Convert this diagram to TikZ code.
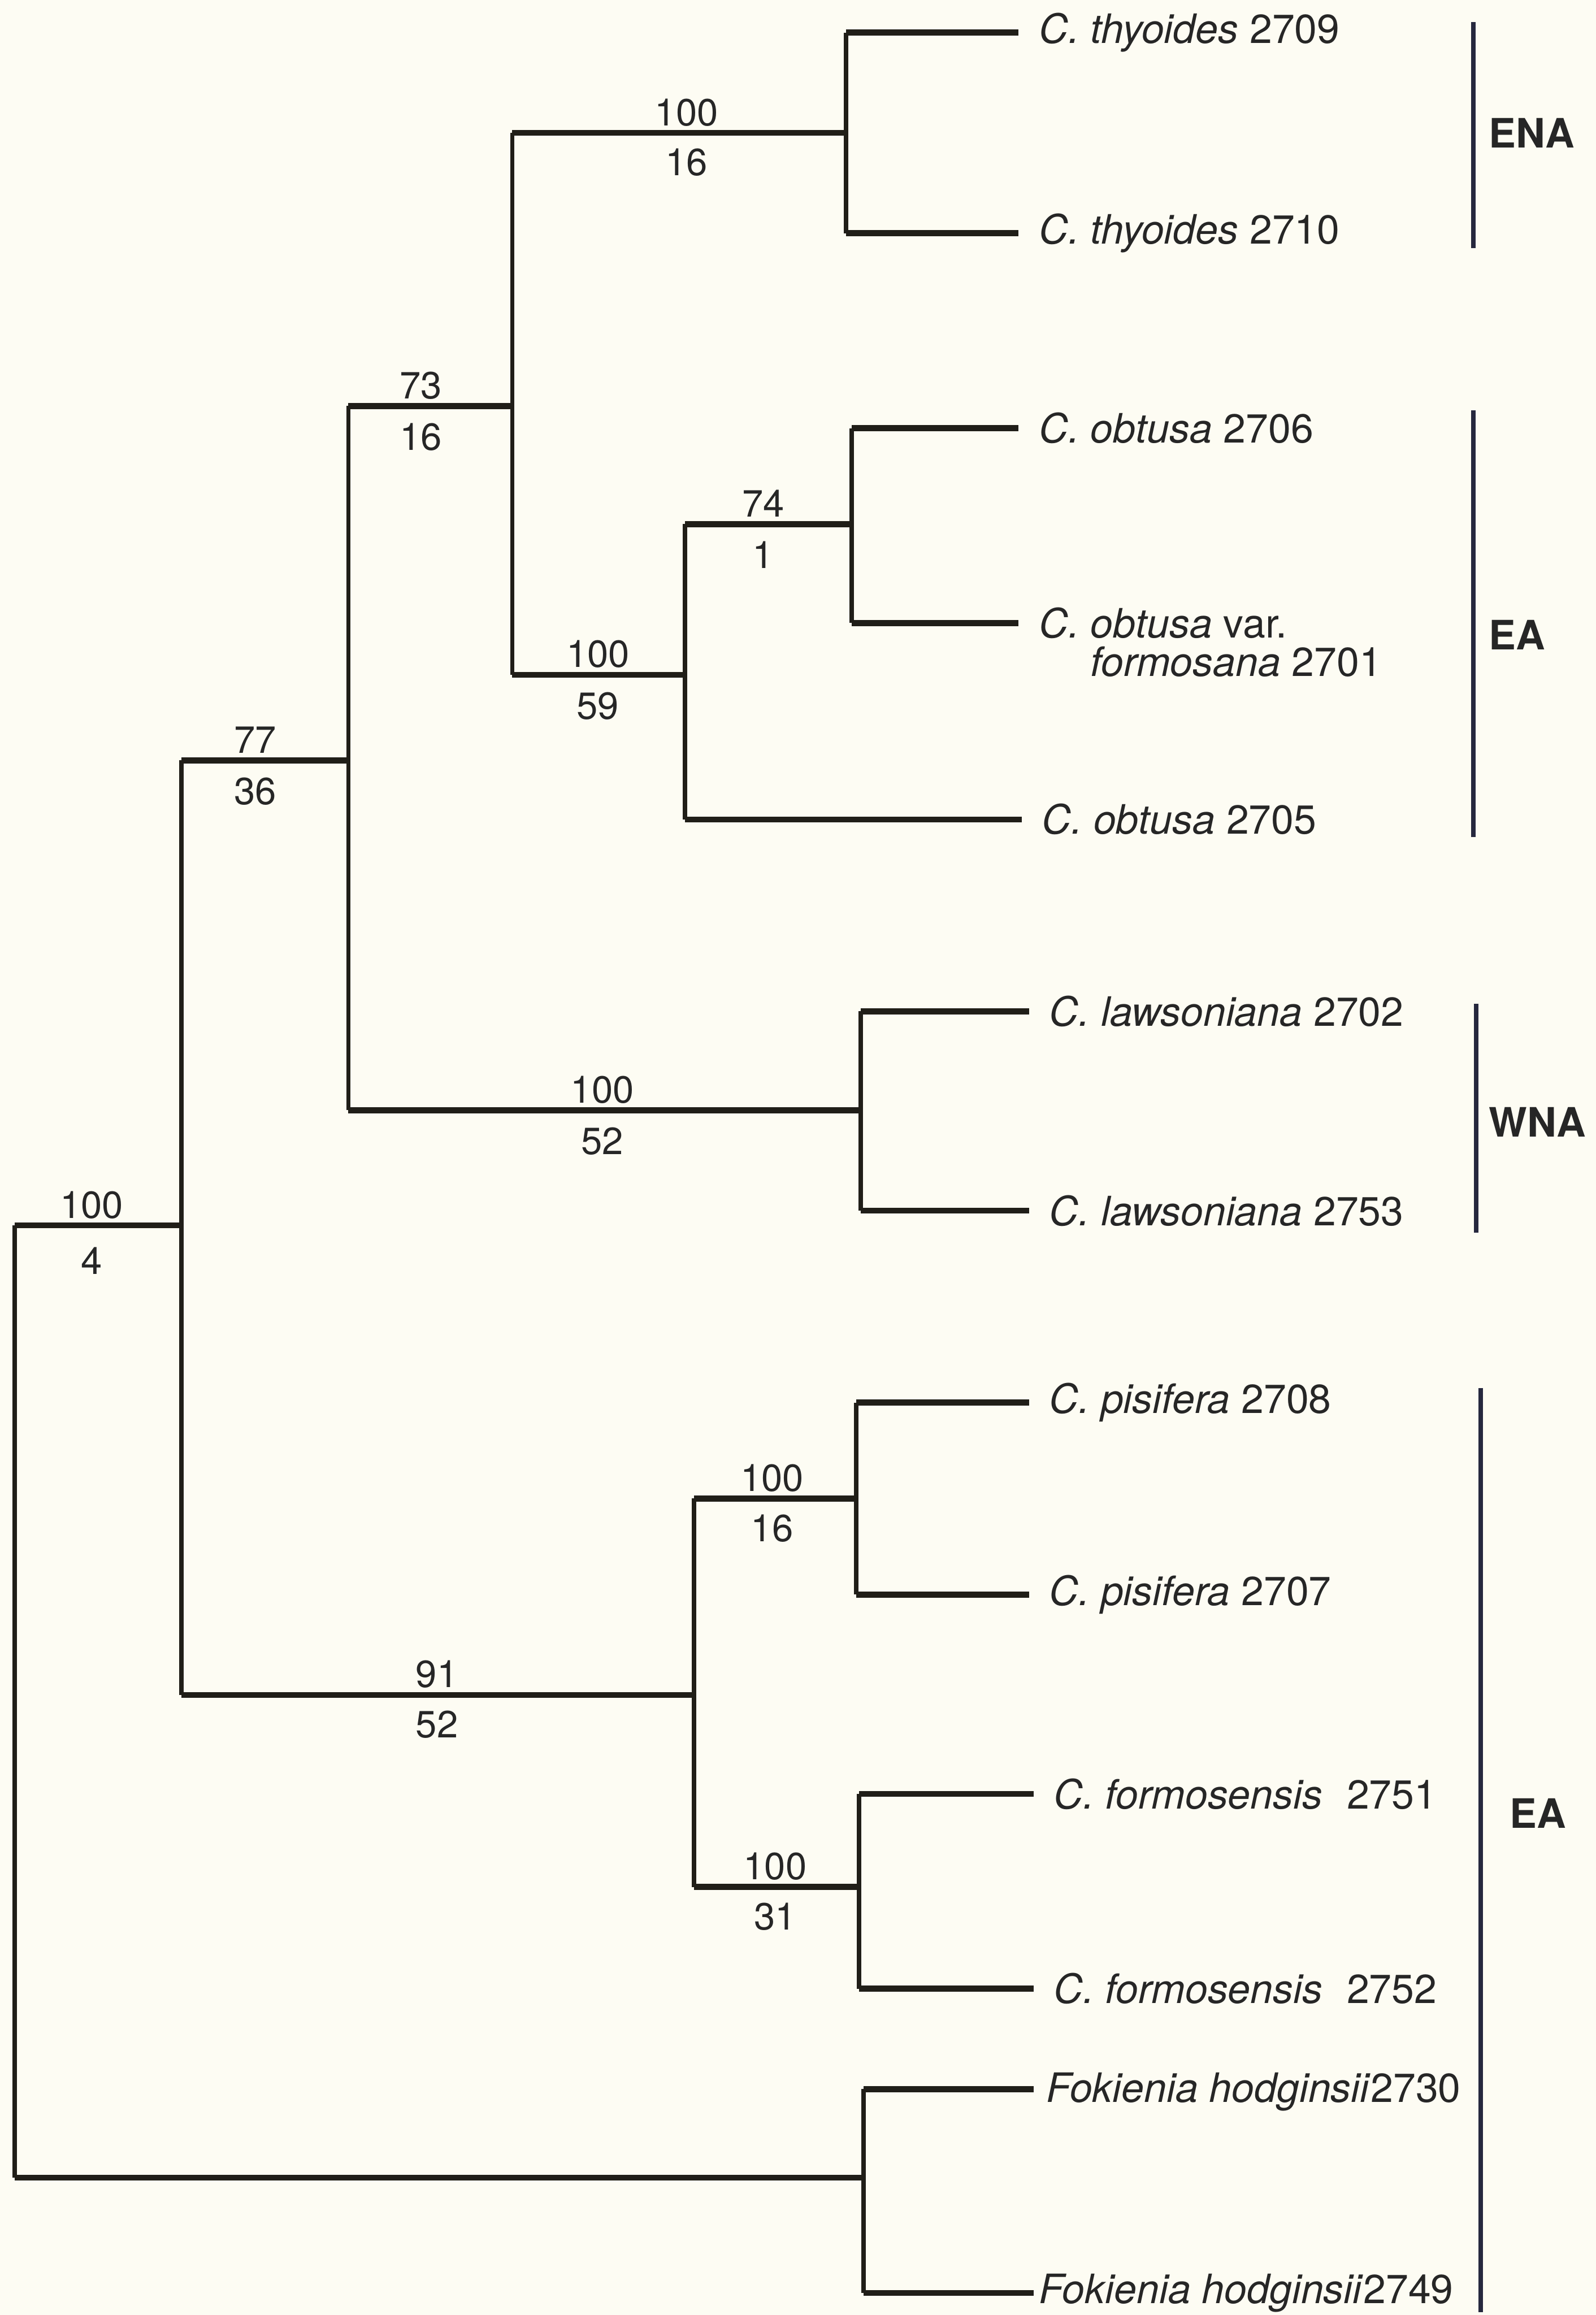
\documentclass[tikz,border=0pt]{standalone}
\usepackage{fontspec}
\setmainfont{TeX Gyre Heros}
\definecolor{bg}{RGB}{253,252,243}
\definecolor{br}{RGB}{32,30,24}
\definecolor{barc}{RGB}{38,40,62}
\definecolor{tx}{RGB}{38,38,38}
\begin{document}
\begin{tikzpicture}[x=0.01cm,y=-0.01cm,
  hb/.style={line width=1.15pt,color=br},
  vb/.style={line width=0.85pt,color=br},
  leaf/.style={anchor=west,inner xsep=0.13cm,inner ysep=0pt,text=tx,font=\fontsize{7.8}{9}\selectfont},
  num/.style={anchor=base,inner sep=0pt,text=tx,font=\fontsize{7.3}{9}\selectfont},
  grp/.style={anchor=west,inner sep=0pt,text=tx,font=\fontsize{7.8}{9}\selectfont\bfseries},
  gbar/.style={line width=0.9pt,color=barc}]
\fill[bg] (0,0) rectangle (1081,1568);
\useasboundingbox (0,0) rectangle (1081,1568);
% internal nodes
\coordinate (R) at (10,1150);
\coordinate (A) at (123,830);
\coordinate (F) at (585,1475);
\coordinate (B) at (236,515);
\coordinate (E) at (470,1148);
\coordinate (C) at (347,275);
\coordinate (W) at (583,752);
\coordinate (T) at (573,90);
\coordinate (D) at (464,457);
\coordinate (O) at (577,355);
\coordinate (P) at (580,1015);
\coordinate (Fo) at (582,1278);
% leaves
\node[leaf] (t1) at (690,22) {\textit{C. thyoides} 2709};
\node[leaf] (t2) at (690,158) {\textit{C. thyoides} 2710};
\node[leaf] (o1) at (690,290) {\textit{C. obtusa} 2706};
\node[leaf] (o2) at (690,422) {\textit{C. obtusa} var.};
\node[leaf,inner xsep=0pt] (o2b) at (738,448) {\textit{formosana} 2701};
\node[leaf] (o3) at (692,555) {\textit{C. obtusa} 2705};
\node[leaf] (l1) at (697,685) {\textit{C. lawsoniana} 2702};
\node[leaf] (l2) at (697,820) {\textit{C. lawsoniana} 2753};
\node[leaf] (p1) at (697,950) {\textit{C. pisifera} 2708};
\node[leaf] (p2) at (697,1080) {\textit{C. pisifera} 2707};
\node[leaf] (f1) at (700,1215) {\textit{C. formosensis}\hspace{0.6em}2751};
\node[leaf] (f2) at (700,1347) {\textit{C. formosensis}\hspace{0.6em}2752};
\node[leaf,inner xsep=0.08cm] (k1) at (700,1417) {\textit{Fokienia hodginsii}2730};
\node[leaf,inner xsep=0.03cm] (k2) at (700,1553) {\textit{Fokienia hodginsii}2749};
% verticals
\draw[vb] (R |- A) -- (R |- F);
\draw[vb] (A |- B) -- (A |- E);
\draw[vb] (B |- C) -- (B |- W);
\draw[vb] (C |- T) -- (C |- D);
\draw[vb] (D |- O) -- (D |- o3.west);
\draw[vb] (E |- P) -- (E |- Fo);
\draw[vb] (T |- t1.west) -- (T |- t2.west);
\draw[vb] (O |- o1.west) -- (O |- o2.west);
\draw[vb] (W |- l1.west) -- (W |- l2.west);
\draw[vb] (P |- p1.west) -- (P |- p2.west);
\draw[vb] (Fo |- f1.west) -- (Fo |- f2.west);
\draw[vb] (F |- k1.west) ++(0,-2) -- (F |- k2.west);
% horizontals
\draw[hb] (R |- A) -- (A);
\draw[hb] (R |- F) -- (F);
\draw[hb] (A |- B) -- (B);
\draw[hb] (A |- E) -- (E);
\draw[hb] (B |- C) -- (C);
\draw[hb] (B |- W) -- (W);
\draw[hb] (C |- T) -- (T);
\draw[hb] (C |- D) -- (D);
\draw[hb] (D |- O) -- (O);
\draw[hb] (D |- o3.west) -- (o3.west);
\draw[hb] (E |- P) -- (P);
\draw[hb] (E |- Fo) -- (Fo);
\draw[hb] (T |- t1.west) -- (t1.west);
\draw[hb] (T |- t2.west) -- (t2.west);
\draw[hb] (O |- o1.west) -- (o1.west);
\draw[hb] (O |- o2.west) -- (o2.west);
\draw[hb] (W |- l1.west) -- (l1.west);
\draw[hb] (W |- l2.west) -- (l2.west);
\draw[hb] (P |- p1.west) -- (p1.west);
\draw[hb] (P |- p2.west) -- (p2.west);
\draw[hb] (Fo |- f1.west) -- (f1.west);
\draw[hb] (Fo |- f2.west) -- (f2.west);
\draw[hb] ([yshift=0.02cm]F |- k1.west) -- ([yshift=0.02cm]k1.west);
\draw[hb] (F |- k2.west) -- (k2.west);
% support values
\node[num] (nR1) at (62,825) {100};   \node[num] (nR2) at (62,863) {4};
\node[num] (nA1) at (173,510) {77};   \node[num] (nA2) at (173,545) {36};
\node[num] (nE1) at (296,1143) {91};  \node[num] (nE2) at (296,1177) {52};
\node[num] (nB1) at (285,270) {73};   \node[num] (nB2) at (285,305) {16};
\node[num] (nW1) at (408,747) {100};  \node[num] (nW2) at (408,782) {52};
\node[num] (nT1) at (465,85) {100};   \node[num] (nT2) at (465,119) {16};
\node[num] (nD1) at (405,452) {100};  \node[num] (nD2) at (405,487) {59};
\node[num] (nO1) at (517,350) {74};   \node[num] (nO2) at (517,385) {1};
\node[num] (nP1) at (523,1010) {100}; \node[num] (nP2) at (523,1044) {16};
\node[num] (nF1) at (525,1273) {100}; \node[num] (nF2) at (525,1307) {31};
% geographic bars
\coordinate (g1a) at (998,15);  \coordinate (g1b) at (998,168);
\coordinate (g2a) at (998,278); \coordinate (g2b) at (998,567);
\coordinate (g3a) at (1000,680); \coordinate (g3b) at (1000,835);
\coordinate (g4a) at (1003,940); \coordinate (g4b) at (1003,1566);
\draw[gbar] (g1a) -- (g1b);
\draw[gbar] (g2a) -- (g2b);
\draw[gbar] (g3a) -- (g3b);
\draw[gbar] (g4a) -- (g4b);
\node[grp] (ena) at (1008,90) {ENA};
\node[grp] (ea1) at (1008,430) {EA};
\node[grp] (wna) at (1008,760) {WNA};
\node[grp] (ea2) at (1022,1228) {EA};
\end{tikzpicture}
\end{document}
